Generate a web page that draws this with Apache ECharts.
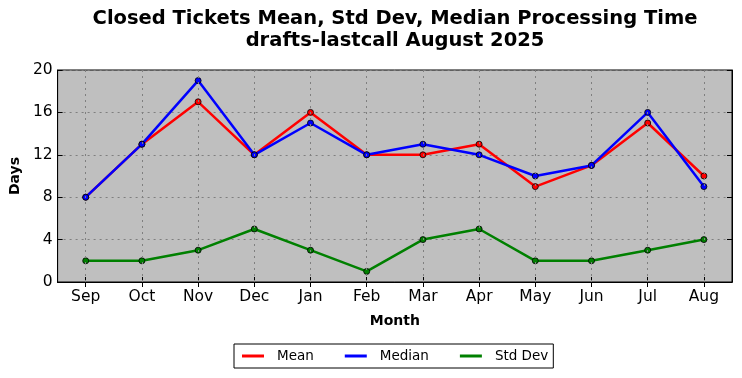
<!DOCTYPE html>
<html><head><meta charset="utf-8">
<script src="https://cdn.jsdelivr.net/npm/echarts@6/dist/echarts.min.js"></script>
<style>html,body{margin:0;padding:0;background:#fff}#c{width:742px;height:378px}</style>
</head><body><div id="c"></div>
<script>
const months = ['Sep','Oct','Nov','Dec','Jan','Feb','Mar','Apr','May','Jun','Jul','Aug'];
const meanVals = [8,13,17,12,16,12,12,13,9,11,15,10];
const medianVals = [8,13,19,12,15,12,13,12,10,11,16,9];
const stdVals = [2,2,3,5,3,1,4,5,2,2,3,4];
const yTicks = [0,4,8,12,16,20];

const font = 'DejaVu Sans';
const chart = echarts.init(document.getElementById('c'), null, {renderer:'canvas'});
function lineSeries(name, data, color){
  return {name, type:'line', data, xAxisIndex:0, yAxisIndex:0,
    symbol:'circle', symbolSize:6, showSymbol:true,
    lineStyle:{color, width:2.5},
    itemStyle:{color, borderColor:'#000', borderWidth:0.8},
    emphasis:{disabled:true}, z:3};
}
chart.setOption({
  animation:false,
  backgroundColor:'#fff',
  title:{
    text:'Closed Tickets Mean, Std Dev, Median Processing Time\ndrafts-lastcall August 2025',
    left:390, textAlign:'center', top:3,
    textStyle:{fontFamily:font, fontSize:19.5, fontWeight:'bold', color:'#000', lineHeight:22}
  },
  legend:{
    bottom:10, left:234, data:['Mean','Median','Std Dev'],
    icon:'rect', itemWidth:22, itemHeight:3, itemGap:31,
    itemStyle:{borderWidth:0},
    borderColor:'#000', borderWidth:1, borderRadius:0, padding:[5,5,5,8],
    textStyle:{fontFamily:font, fontSize:13.5, color:'#000', padding:[0,0,0,8]}
  },
  grid:{left:56, right:10, top:70, bottom:96, show:true, backgroundColor:'#bfbfbf', borderColor:'#000', borderWidth:1},
  xAxis:[{
    type:'category', data:months, boundaryGap:true, position:'bottom',
    name:'Month', nameLocation:'middle', nameGap:32,
    nameTextStyle:{fontFamily:font, fontSize:14, fontWeight:'bold', color:'#000'},
    axisLine:{show:true, lineStyle:{color:'#000'}},
    axisTick:{show:true, inside:true, alignWithLabel:true, length:5, lineStyle:{color:'#000'}},
    axisLabel:{fontFamily:font, fontSize:15.5, color:'#000', margin:7},
    splitLine:{show:false}
  },{
    type:'category', data:months, boundaryGap:true, position:'top',
    axisLine:{show:true, lineStyle:{color:'#000'}},
    axisTick:{show:true, inside:true, alignWithLabel:true, length:5, lineStyle:{color:'#000'}},
    axisLabel:{show:false}, splitLine:{show:false}
  }],
  yAxis:[{
    type:'value', min:0, max:20, interval:4,
    name:'Days', nameLocation:'middle', nameGap:33, nameRotate:90,
    nameTextStyle:{fontFamily:font, fontSize:14, fontWeight:'bold', color:'#000'},
    axisLine:{show:true, lineStyle:{color:'#000'}},
    axisTick:{show:true, inside:true, length:5, lineStyle:{color:'#000'}},
    axisLabel:{fontFamily:font, fontSize:15.5, color:'#000', margin:5,
      formatter:v=>yTicks.includes(v)?String(v):''},
    splitLine:{show:true, lineStyle:{color:'#7f7f7f', type:[2,4], width:1}}
  },{
    type:'value', min:0, max:20, interval:4, position:'right',
    axisLine:{show:true, lineStyle:{color:'#000'}},
    axisTick:{show:true, inside:true, length:5, lineStyle:{color:'#000'}},
    axisLabel:{show:false}, splitLine:{show:false}
  }],
  series:[
    lineSeries('Mean', meanVals, '#ff0000'),
    lineSeries('Median', medianVals, '#0000ff'),
    lineSeries('Std Dev', stdVals, '#008000'),
    {type:'line', data:[], xAxisIndex:0, yAxisIndex:0, silent:true, z:1,
     markLine:{silent:true, symbol:['none','none'], label:{show:false},
       lineStyle:{color:'#7f7f7f', type:[2,4], width:1},
       data: months.map(m=>({xAxis:m}))}}
  ]
});
</script></body></html>
